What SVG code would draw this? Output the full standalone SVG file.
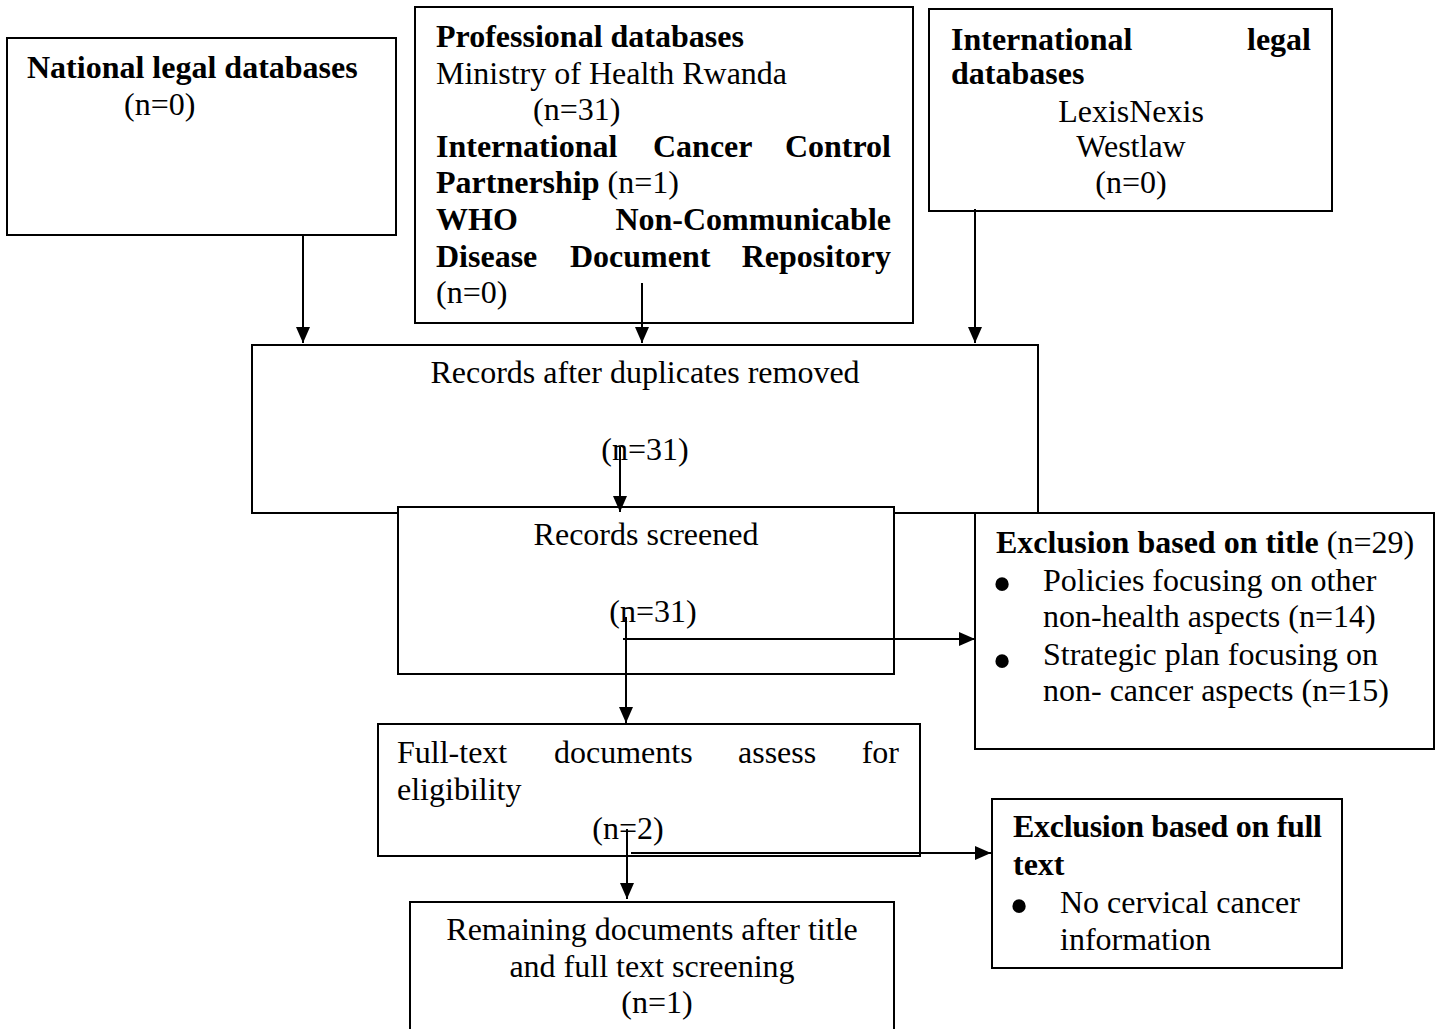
<svg xmlns="http://www.w3.org/2000/svg" width="1442" height="1029" viewBox="0 0 1442 1029">
<defs>
<style>
text{font-family:"Liberation Serif","Times New Roman",serif;font-size:32px;fill:#000}
.b{font-weight:bold}
.m{text-anchor:middle}
.e{text-anchor:end}
.bul{font-size:56px;text-anchor:middle}
.box{fill:#fff;stroke:#000;stroke-width:2}
.c{fill:none;stroke:#000;stroke-width:2}
</style>
<marker id="ah" markerUnits="userSpaceOnUse" markerWidth="16" markerHeight="14" refX="16" refY="7" orient="auto">
<path d="M0,0 L16,7 L0,14 z" fill="#000"/>
</marker>
</defs>
<rect width="1442" height="1029" fill="#fff"/>

<g id="national">
<rect class="box" x="7" y="38" width="389" height="197"/>
<text class="b" x="27" y="78">National legal databases</text>
<text x="124" y="115">(n=0)</text>
</g>

<g id="professional">
<rect class="box" x="415" y="7" width="498" height="316"/>
<text class="b" x="436" y="47">Professional databases</text>
<text x="436" y="84">Ministry of Health Rwanda</text>
<text x="533" y="120">(n=31)</text>
<text class="b" x="436" y="157">International</text>
<text class="b" x="653" y="157">Cancer</text>
<text class="b e" x="891" y="157">Control</text>
<text x="436" y="193"><tspan class="b">Partnership</tspan> (n=1)</text>
<text class="b" x="436" y="230">WHO</text>
<text class="b e" x="891" y="230">Non-Communicable</text>
<text class="b" x="436" y="267">Disease</text>
<text class="b" x="570" y="267">Document</text>
<text class="b e" x="891" y="267">Repository</text>
<text x="436" y="303">(n=0)</text>
</g>

<g id="international">
<rect class="box" x="929" y="9" width="403" height="202"/>
<text class="b" x="951" y="50">International</text>
<text class="b e" x="1311" y="50">legal</text>
<text class="b" x="951" y="84">databases</text>
<text class="m" x="1131" y="122">LexisNexis</text>
<text class="m" x="1131" y="157">Westlaw</text>
<text class="m" x="1131" y="193">(n=0)</text>
</g>

<g id="dedup">
<rect class="box" x="252" y="345" width="786" height="168"/>
<text class="m" x="645" y="383">Records after duplicates removed</text>
<text class="m" x="645" y="460">(n=31)</text>
</g>

<g id="screened">
<rect class="box" x="398" y="507" width="496" height="167"/>
<text class="m" x="646" y="545">Records screened</text>
<text class="m" x="653" y="622">(n=31)</text>
</g>

<g id="excl-title">
<rect class="box" x="975" y="513" width="459" height="236"/>
<text x="996" y="553"><tspan class="b">Exclusion based on title</tspan> (n=29)</text>
<text class="bul" x="1002" y="603">•</text>
<text x="1043" y="591">Policies focusing on other</text>
<text x="1043" y="627">non-health aspects (n=14)</text>
<text class="bul" x="1002" y="680">•</text>
<text x="1043" y="665">Strategic plan focusing on</text>
<text x="1043" y="701">non- cancer aspects (n=15)</text>
</g>

<g id="fulltext">
<rect class="box" x="378" y="724" width="542" height="132"/>
<text x="397" y="763">Full-text</text>
<text x="554" y="763">documents</text>
<text x="738" y="763">assess</text>
<text class="e" x="899" y="763">for</text>
<text x="397" y="800">eligibility</text>
<text class="m" x="628" y="839">(n=2)</text>
</g>

<g id="excl-full">
<rect class="box" x="992" y="799" width="350" height="169"/>
<text class="b" x="1013" y="837" textLength="309" lengthAdjust="spacing">Exclusion based on full</text>
<text class="b" x="1013" y="875">text</text>
<text class="bul" x="1019" y="925">•</text>
<text x="1060" y="913">No cervical cancer</text>
<text x="1060" y="950">information</text>
</g>

<g id="remaining">
<rect class="box" x="410" y="902" width="484" height="200"/>
<text class="m" x="652" y="940">Remaining documents after title</text>
<text class="m" x="652" y="977">and full text screening</text>
<text class="m" x="657" y="1013">(n=1)</text>
</g>

<g id="connectors">
<path class="c" d="M303,235 V343" marker-end="url(#ah)"/>
<path class="c" d="M642,283 V343" marker-end="url(#ah)"/>
<path class="c" d="M975,209 V343" marker-end="url(#ah)"/>
<path class="c" d="M620,447 V512" marker-end="url(#ah)"/>
<path class="c" d="M626,617 V723" marker-end="url(#ah)"/>
<path class="c" d="M623,639 H975" marker-end="url(#ah)"/>
<path class="c" d="M627,829 V899" marker-end="url(#ah)"/>
<path class="c" d="M631,853 H991" marker-end="url(#ah)"/>
</g>
</svg>
